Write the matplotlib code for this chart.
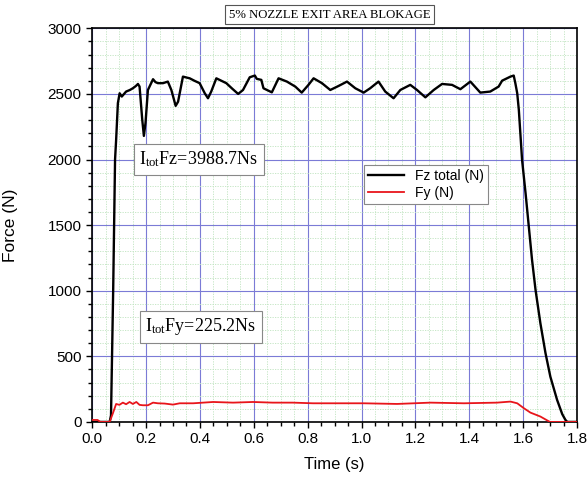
import matplotlib
matplotlib.use("Agg")
import matplotlib.pyplot as plt
from matplotlib.ticker import MultipleLocator

plt.rcParams['font.family'] = ['Liberation Sans', 'DejaVu Sans']
plt.rcParams['mathtext.fontset'] = 'custom'
plt.rcParams['mathtext.rm'] = 'Liberation Serif'

# Fz total (N)
fz_t = [0.0, 0.03, 0.065, 0.070, 0.078, 0.085, 0.089, 0.0955, 0.102, 0.110, 0.126, 0.140, 0.151,
        0.162, 0.170, 0.176, 0.186, 0.192, 0.198, 0.207, 0.226, 0.235, 0.244, 0.263, 0.281,
        0.294, 0.310, 0.319, 0.337, 0.350, 0.362, 0.380, 0.399, 0.418, 0.430, 0.442, 0.461,
        0.480, 0.498, 0.520, 0.542, 0.560, 0.585, 0.604, 0.611, 0.628, 0.636, 0.667, 0.692,
        0.723, 0.754, 0.778, 0.803, 0.822, 0.853, 0.884, 0.915, 0.946, 0.977, 1.008, 1.032,
        1.063, 1.088, 1.119, 1.144, 1.181, 1.206, 1.237, 1.268, 1.299, 1.336, 1.367, 1.404,
        1.441, 1.478, 1.509, 1.522, 1.553, 1.565, 1.571, 1.578, 1.584, 1.596, 1.609, 1.621,
        1.633, 1.646, 1.664, 1.683, 1.701, 1.726, 1.745, 1.757, 1.764, 1.80]
fz_v = [0, 0, 0, 50, 1000, 2000, 2150, 2430, 2505, 2480, 2518, 2530, 2543,
        2560, 2576, 2556, 2302, 2180, 2278, 2530, 2612, 2590, 2582, 2582, 2594,
        2530, 2409, 2441, 2632, 2625, 2619, 2600, 2582, 2505, 2467, 2518, 2619,
        2600, 2582, 2540, 2500, 2530, 2627, 2640, 2615, 2607, 2543, 2512, 2619,
        2594, 2556, 2510, 2569, 2619, 2582, 2530, 2561, 2594, 2543, 2510, 2543,
        2594, 2518, 2467, 2530, 2569, 2530, 2474, 2530, 2576, 2569, 2536, 2594,
        2510, 2518, 2556, 2601, 2632, 2640, 2582, 2505, 2378, 1997, 1743, 1489,
        1235, 1006, 752, 524, 345, 168, 60, 15, 0, 0]

# Fy (N)
fy_t = [0.0, 0.02, 0.03, 0.065, 0.077, 0.089, 0.101, 0.114, 0.126, 0.139, 0.151, 0.164,
        0.176, 0.188, 0.207, 0.226, 0.244, 0.269, 0.300, 0.325, 0.375, 0.449, 0.523,
        0.597, 0.670, 0.745, 0.820, 0.920, 1.008, 1.132, 1.256, 1.380, 1.503, 1.553,
        1.578, 1.603, 1.627, 1.664, 1.695, 1.700, 1.80]
fy_v = [15, 15, 0, 0, 66, 137, 130, 147, 135, 152, 137, 152,
        130, 127, 127, 147, 142, 140, 132, 142, 142, 152, 147,
        152, 147, 147, 142, 142, 142, 137, 147, 142, 147, 155,
        142, 104, 71, 41, 5, 0, 0]

x_ticks = [0.0, 0.2, 0.4, 0.6, 0.8, 1.0, 1.2, 1.4, 1.6, 1.8]
y_ticks = [0, 500, 1000, 1500, 2000, 2500, 3000]

fig = plt.figure(figsize=(5.87, 4.80), dpi=100)
ax = fig.add_axes([0.157, 0.121, 0.826, 0.820])

ax.plot(fz_t, fz_v, color='black', lw=1.7, label='Fz total (N)', zorder=3)
ax.plot(fy_t, fy_v, color='#e8151b', lw=1.3, label='Fy (N)', zorder=3)

ax.set_xlim(0, 1.8)
ax.set_ylim(0, 3000)
ax.set_xticks(x_ticks)
ax.set_xticklabels([f"{v:.1f}" for v in x_ticks])
ax.set_yticks(y_ticks)
ax.xaxis.set_minor_locator(MultipleLocator(0.05))
ax.yaxis.set_minor_locator(MultipleLocator(100))

ax.grid(which='minor', color='#bfe3bf', lw=0.6, ls=(0, (1.5, 1.5)), zorder=0)
ax.grid(which='major', color='#7b7bd6', lw=0.8, ls='-', zorder=1)
ax.set_axisbelow(True)

ax.tick_params(which='both', direction='out', top=False, right=False, labelsize=11)
ax.tick_params(which='major', length=4, width=1)
ax.tick_params(which='minor', length=3, width=1)
for s in ax.spines.values():
    s.set_linewidth(1.2)

ax.set_xlabel('Time (s)', fontsize=12)
ax.set_ylabel('Force (N)', fontsize=12.5)
ax.xaxis.set_label_coords(0.5, -0.088)
ax.yaxis.set_label_coords(-0.153, 0.5)

ax.text(0.49, 1.035, '5% NOZZLE EXIT AREA BLOKAGE', transform=ax.transAxes,
        ha='center', va='center', fontsize=9.2, family='Liberation Serif',
        bbox=dict(boxstyle='square,pad=0.3', fc='white', ec='#555555', lw=0.8))

ax.text(0.175, 2000, r'$\mathregular{I_{tot}}$Fz=3988.7Ns', ha='left', va='center',
        fontsize=13, family='Liberation Serif', zorder=5,
        bbox=dict(boxstyle='square,pad=0.3', fc='white', ec='#888888', lw=0.8))
ax.text(0.197, 725, r'$\mathregular{I_{tot}}$Fy=225.2Ns', ha='left', va='center',
        fontsize=13, family='Liberation Serif', zorder=5,
        bbox=dict(boxstyle='square,pad=0.3', fc='white', ec='#888888', lw=0.8))

leg = ax.legend(loc='upper left', bbox_to_anchor=(0.5606, 0.653), fontsize=10,
                frameon=True, fancybox=False, edgecolor='#888888', framealpha=1,
                handlelength=2.6, borderpad=0.3, labelspacing=0.2, borderaxespad=0)
leg.get_frame().set_linewidth(0.8)

fig.savefig('out.png', dpi=100)
